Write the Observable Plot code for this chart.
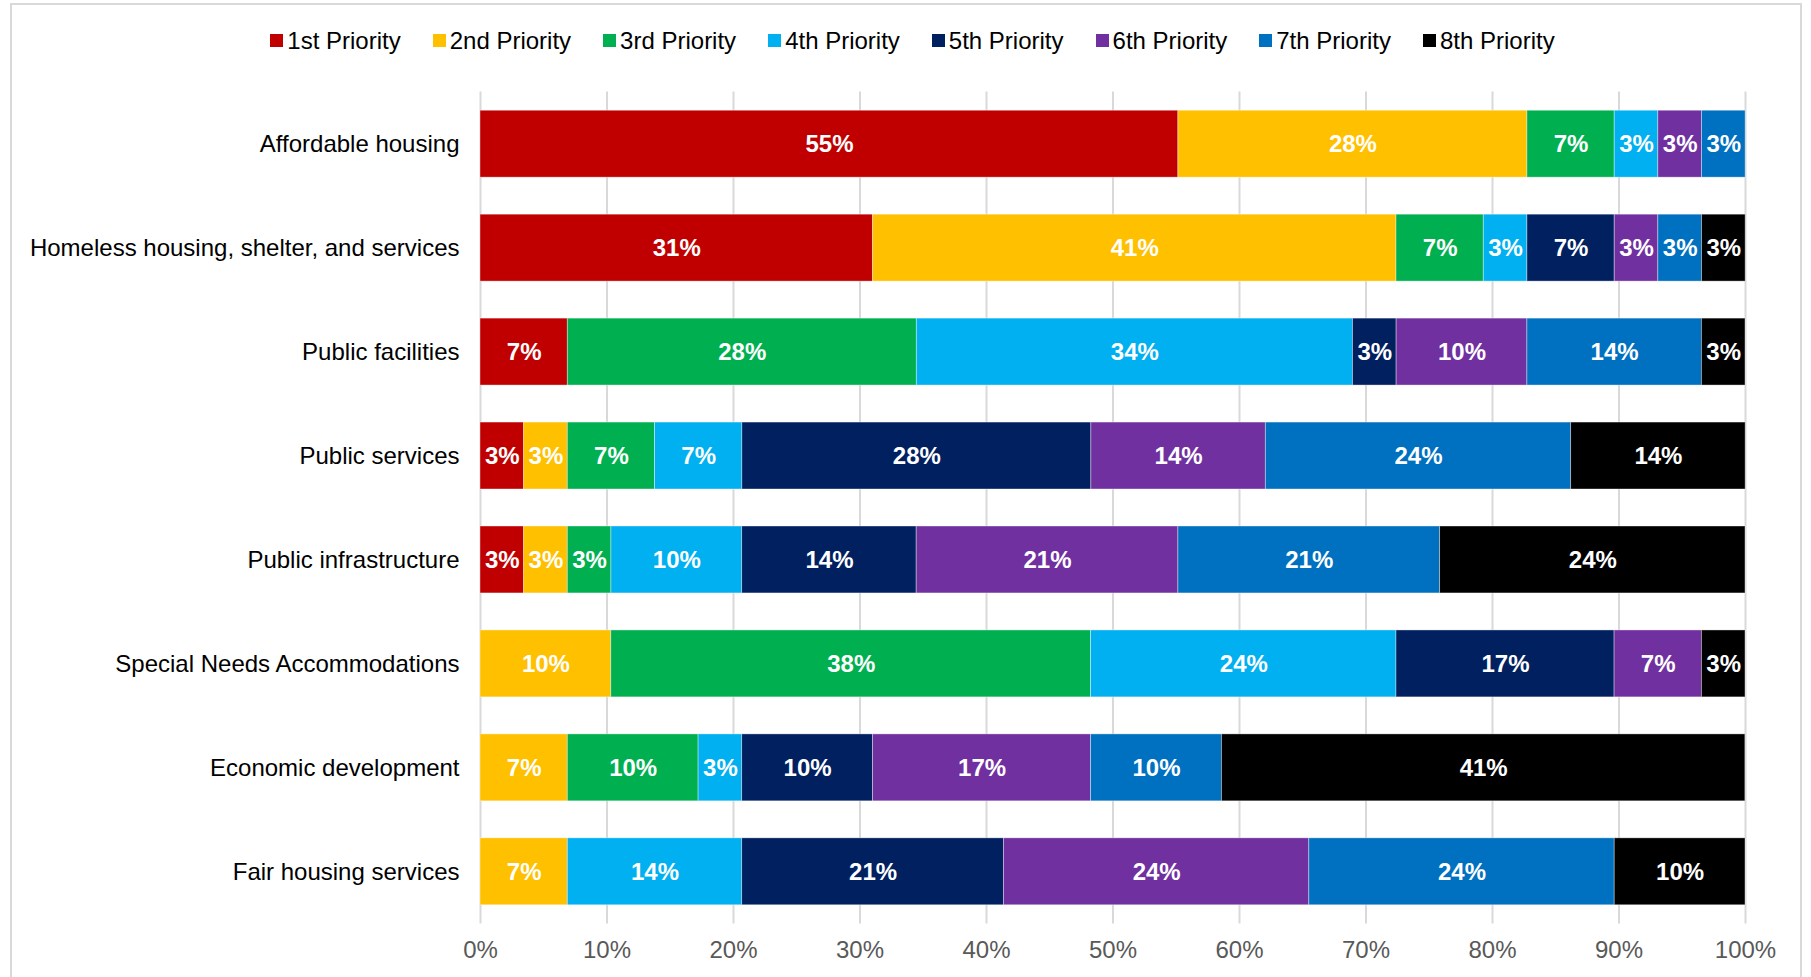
<!DOCTYPE html>
<html>
<head>
<meta charset="utf-8">
<script src="https://cdn.jsdelivr.net/npm/d3@7"></script>
<script src="https://cdn.jsdelivr.net/npm/@observablehq/plot@0.6"></script>
<style>
  html, body { margin: 0; padding: 0; background: #fff; }
  body { width: 1811px; height: 977px; position: relative; overflow: hidden; font-family: "Liberation Sans", Arial, sans-serif; }
  #frame { position: absolute; left: 10px; top: 3px; width: 1792px; height: 990px; border: 2px solid #d9d9d9; box-sizing: border-box; }
  #legend { position: absolute; left: 0; top: 0; width: 1811px; height: 78px; display: flex; justify-content: center; align-items: center; gap: 32px; padding-left: 14px; padding-top: 3px; box-sizing: border-box; }
  .item { display: flex; align-items: center; font-size: 24px; color: #000; }
  .sw { width: 13px; height: 13px; margin-right: 4px; }
  #chart { position: absolute; left: 0; top: 78px; }
</style>
</head>
<body>
<div id="frame"></div>
<div id="legend"></div>
<div id="chart"></div>
<script>
const categories = [
  "Affordable housing",
  "Homeless housing, shelter, and services",
  "Public facilities",
  "Public services",
  "Public infrastructure",
  "Special Needs Accommodations",
  "Economic development",
  "Fair housing services"
];
const priorities = ["1st Priority","2nd Priority","3rd Priority","4th Priority","5th Priority","6th Priority","7th Priority","8th Priority"];
const colors = ["#C00000","#FFC000","#00B050","#00B0F0","#002060","#7030A0","#0070C0","#000000"];

// percent of respondents, one array per priority, aligned with categories
const p1 = [55.17, 31.03, 6.90, 3.45, 3.45, 0, 0, 0];
const p2 = [27.59, 41.38, 0, 3.45, 3.45, 10.34, 6.90, 6.90];
const p3 = [6.90, 6.90, 27.59, 6.90, 3.45, 37.93, 10.34, 0];
const p4 = [3.45, 3.45, 34.48, 6.90, 10.34, 24.14, 3.45, 13.79];
const p5 = [0, 6.90, 3.45, 27.59, 13.79, 17.24, 10.34, 20.69];
const p6 = [3.45, 3.45, 10.34, 13.79, 20.69, 6.90, 17.24, 24.14];
const p7 = [3.45, 3.45, 13.79, 24.14, 20.69, 0, 10.34, 24.14];
const p8 = [0, 3.45, 3.45, 13.79, 24.14, 3.45, 41.38, 10.34];
const xTicks = [0,10,20,30,40,50,60,70,80,90,100];

const series = [p1,p2,p3,p4,p5,p6,p7,p8];
const data = [];
series.forEach((vals, i) => vals.forEach((v, j) => {
  if (v > 0) data.push({category: categories[j], priority: priorities[i], value: v});
}));

// legend
const legend = document.getElementById("legend");
priorities.forEach((p, i) => {
  const it = document.createElement("div");
  it.className = "item";
  it.innerHTML = `<span class="sw" style="background:${colors[i]}"></span><span>${p}</span>`;
  legend.appendChild(it);
});

const font = "'Liberation Sans', Arial, sans-serif";
const chart = Plot.plot({
  width: 1811,
  height: 899,
  marginTop: 13.5,
  marginBottom: 53.5,
  marginLeft: 480,
  marginRight: 66,
  style: {fontFamily: font, fontSize: "24px", background: "transparent", overflow: "visible"},
  x: {domain: [0, 100]},
  y: {domain: categories, paddingInner: 0.356, paddingOuter: 0.18, round: false},
  color: {domain: priorities, range: colors},
  marks: [
    Plot.gridX(xTicks, {stroke: "#d9d9d9", strokeOpacity: 1, strokeWidth: 2}),
    Plot.barX(data, Plot.stackX({x: "value", y: "category", fill: "priority", order: priorities, stroke: "#fff", strokeOpacity: 0.5, strokeWidth: 0.75})),
    Plot.text(data, Plot.stackX({x: "value", y: "category", z: "priority", order: priorities,
      text: d => Math.round(d.value) + "%", fill: "#fff", fontWeight: "bold", fontSize: 24, fontFamily: font})),
    Plot.axisY({tickSize: 0, tickPadding: 21, label: null, fill: "#000", fontSize: 24}),
    Plot.axisX({ticks: xTicks, tickFormat: d => d + "%", tickSize: 0, tickPadding: 17, label: null, fill: "#595959", fontSize: 24})
  ]
});
document.getElementById("chart").appendChild(chart);
</script>
</body>
</html>
